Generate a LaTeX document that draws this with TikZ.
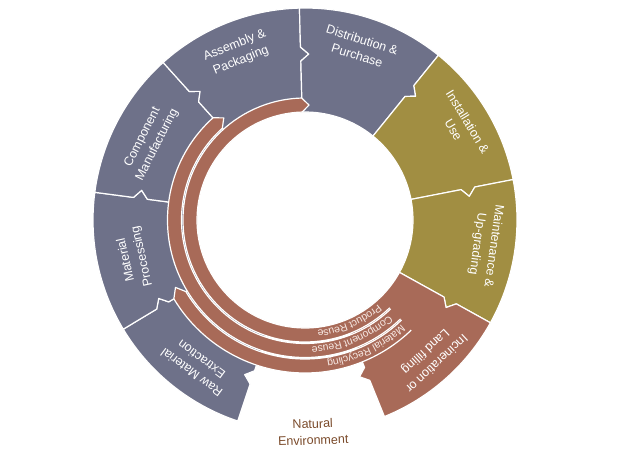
\documentclass[tikz,border=0pt]{standalone}
\usepackage{fontspec}
\setmainfont{Liberation Sans}
\usepackage{tikz}
\usetikzlibrary{decorations.text}
\definecolor{lcslate}{HTML}{6E7189}
\definecolor{lcolive}{HTML}{A18E42}
\definecolor{lcbrown}{HTML}{A86A58}
\definecolor{lcbandtext}{HTML}{F6E8E3}
\definecolor{lcearth}{HTML}{7A4A2A}
\newcommand{\ringin}{108}
\newcommand{\ringout}{212}
\newcommand{\notchr}{166}
\newcommand{\notchh}{7}
\newcommand{\notchd}{2.8}
\newcommand{\bandstart}{-46}
% one stage of the ring: start angle, end angle (clockwise), fill
\newcommand{\lcstage}[3]{%
  \filldraw[stageseg, fill=#3] (#1:\ringin) -- (#1:{\notchr-\notchh}) -- ({#1-\notchd}:\notchr) -- (#1:{\notchr+\notchh}) -- (#1:\ringout)
    arc[start angle=#1, end angle=#2, radius=\ringout]
    -- (#2:{\notchr+\notchh}) -- ({#2-\notchd}:\notchr) -- (#2:{\notchr-\notchh}) -- (#2:\ringin)
    arc[start angle=#2, end angle=#1, radius=\ringin] -- cycle;
}
% one return band: inner radius, outer radius, end angle
\newcommand{\lcband}[3]{%
  \path[bandseg] (\bandstart:#1)
    arc[start angle=\bandstart, end angle=#3, radius=#1]
    -- ({#3-3.5}:{(#1+#2)/2}) -- (#3:#2)
    arc[start angle=#3, end angle=\bandstart, radius=#2];
}
\newcommand{\bandfont}{\fontsize{10.5}{10.5}\selectfont}

\begin{document}
\begin{tikzpicture}[
  x=1pt, y=1pt,
  stageseg/.style={draw=white, line width=1.2pt, line join=round},
  bandseg/.style={fill=lcbrown, draw=white, line width=1.2pt, line join=round},
  stage/.style={
    text=white,
    align=center,
    inner sep=0pt,
    font=\fontsize{12.5}{16.5}\selectfont
  },
  bandlabel/.style={
    decorate,
    decoration={text along path, text color=lcbandtext, raise=-3.6pt}
  }
]
  \useasboundingbox (-305,-238) rectangle (338,220);

  % --- OUTER RING: the eight stages ---
  \lcstage{251.5}{211}{lcslate}
  \lcstage{211}{172.5}{lcslate}
  \lcstage{172.5}{132}{lcslate}
  \lcstage{132}{91.5}{lcslate}
  \lcstage{91.5}{51}{lcslate}
  \lcstage{51}{11}{lcolive}
  \lcstage{11}{-29}{lcolive}
  \lcstage{-29}{-68}{lcbrown}

  % --- INNER RETURN BANDS ---
  \lcband{139}{153}{-149}
  \lcband{123.5}{137.5}{-228}
  \lcband{108}{122}{-268.5}

  \path[bandlabel, decoration={text={|\bandfont|Product Reuse}}] (-49:115) arc[start angle=-49, end angle=-110, radius=115];
  \path[bandlabel, decoration={text={|\bandfont|Component Reuse}}] (-48.5:130.5) arc[start angle=-48.5, end angle=-110, radius=130.5];
  \path[bandlabel, decoration={text={|\bandfont|Material Recycling}}] (-47.5:146) arc[start angle=-47.5, end angle=-110, radius=146];

  % Stage labels
  \node[stage, rotate=143.4] (raw) at (233.4:182) {Raw Material\\Extraction};
  \node[stage, rotate=102.6] (proc) at (192.6:175) {Material\\Processing};
  \node[stage, rotate=63] (comp) at (153:174) {Component\\Manufacturing};
  \node[stage, rotate=21.9] (assy) at (111.9:180) {Assembly \&\\Packaging};
  \node[stage, rotate=-17.6] (dist) at (72.4:181) {Distribution \&\\Purchase};
  \node[stage, rotate=-58.8] (inst) at (31.2:182) {Installation \&\\Use};
  \node[stage, rotate=-97.9] (maint) at (-7.9:182) {Maintenance \&\\Up-grading};
  \node[stage, rotate=-136.9] (eol) at (-47.5:186) {Incineration or\\Land filling};

  \node[stage, text=lcearth, rotate=2] (nature) at (8,-212) {Natural\\Environment};

\end{tikzpicture}
\end{document}
